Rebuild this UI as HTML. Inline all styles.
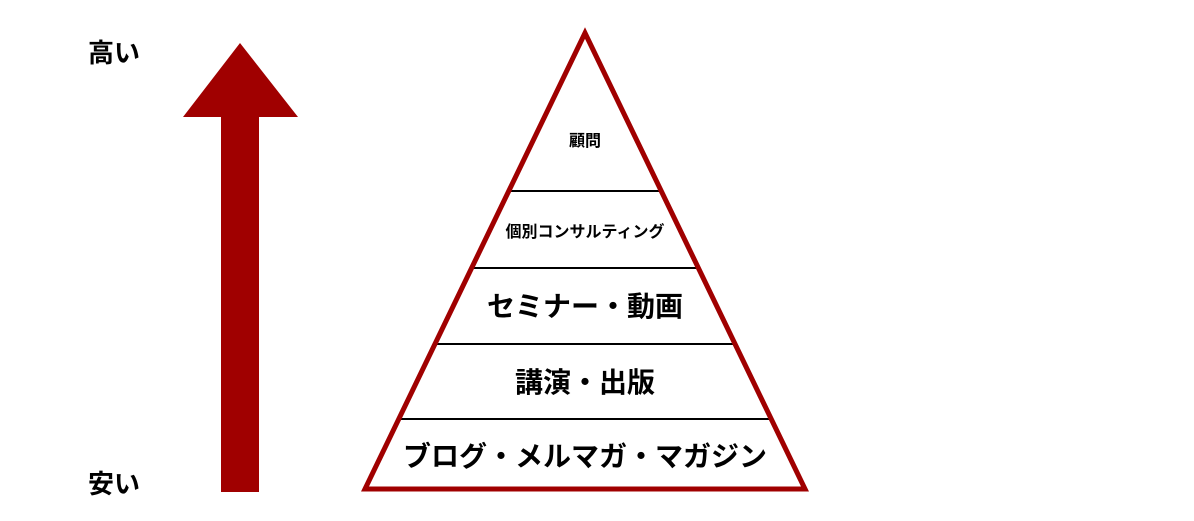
<!DOCTYPE html>
<html><head><meta charset="utf-8"><style>
body{margin:0;background:#fff;width:1194px;height:516px;overflow:hidden}
svg text{font-family:"Liberation Sans","Noto Sans CJK JP",sans-serif;font-weight:bold;fill:#000}
</style></head><body>
<svg width="1194" height="516" viewBox="0 0 1194 516">
<polygon points="240,43 298,117 259,117 259,492 221,492 221,117 183,117" fill="#a00000"/>
<text x="88" y="62" font-size="26">高い</text>
<text x="88" y="493" font-size="26">安い</text>
<g stroke="#000" stroke-width="2">
<line x1="510" y1="191" x2="660" y2="191"/>
<line x1="470" y1="268" x2="700" y2="268"/>
<line x1="437" y1="344" x2="733" y2="344"/>
<line x1="400" y1="419" x2="770" y2="419"/>
</g>
<polygon points="585,33 805,489 365,489" fill="none" stroke="#a00000" stroke-width="5" stroke-linejoin="miter"/>
<text x="585" y="146" font-size="16" text-anchor="middle">顧問</text>
<text x="585" y="237" font-size="16" text-anchor="middle">個別コンサルティング</text>
<text x="585" y="316" font-size="28" text-anchor="middle">セミナー・動画</text>
<text x="585" y="392" font-size="28" text-anchor="middle">講演・出版</text>
<text x="585" y="466" font-size="28" text-anchor="middle">ブログ・メルマガ・マガジン</text>
</svg>
</body></html>
